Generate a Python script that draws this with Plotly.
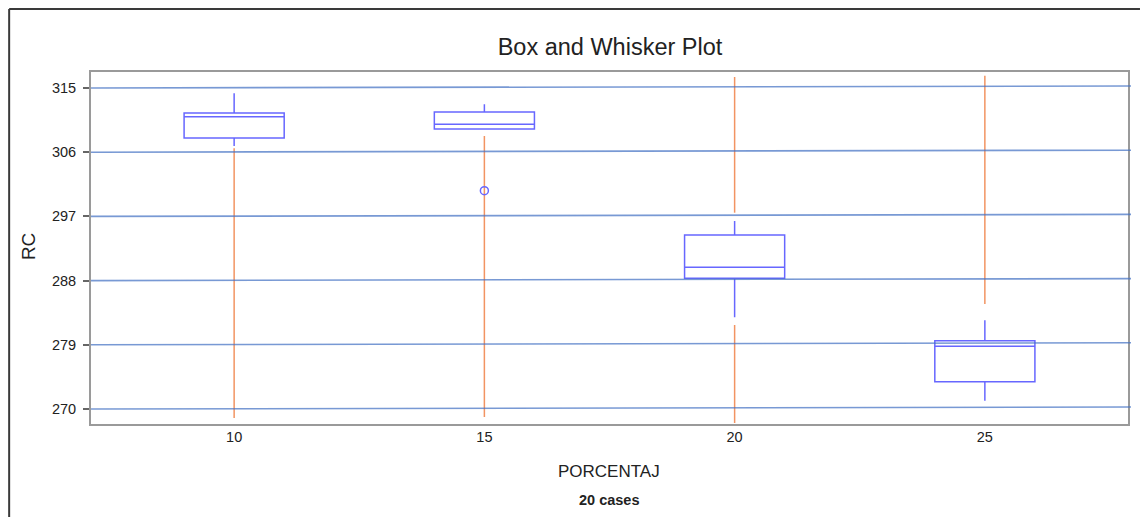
import plotly.graph_objects as go

# ---- data ----
categories = ["10", "15", "20", "25"]
q1 = [307.99, 309.25, 288.32, 273.83]
median = [310.98, 309.91, 289.86, 278.79]
q3 = [311.50, 311.64, 294.39, 279.57]
lower_fence = [306.87, 309.25, 282.85, 271.16]
upper_fence = [314.26, 312.71, 296.36, 282.43]

outlier_x = ["15"]
outlier_y = [300.6]

# orange vertical segments
orange_x = ["10", "15", "20", "20", "25"]
orange_hi = [306.55, 308.27, 316.54, 281.78, 316.72]
orange_lo = [268.74, 268.88, 297.52, 268.04, 284.72]

y_ticks = [270, 279, 288, 297, 306, 315]

# ---- layout geometry (pixels) ----
W, H = 1140, 517
L, R, T, B = 91, 1130, 72, 424


def px_x(p):
    return (p - L) / (R - L)


def px_y(p):
    return (B - p) / (B - T)


BOX_COLOR = "#6767FF"
ORANGE = "#F29462"
GRID = "rgba(68,114,196,0.72)"
FONT = "Liberation Sans, Arial, sans-serif"
TXT = "#222222"

fig = go.Figure()

# orange segments
ox, oy = [], []
for x, hi, lo in zip(orange_x, orange_hi, orange_lo):
    ox += [x, x, None]
    oy += [hi, lo, None]
fig.add_trace(go.Scatter(x=ox, y=oy, mode="lines",
                         line=dict(color=ORANGE, width=1.5),
                         hoverinfo="skip", showlegend=False))

fig.add_trace(go.Box(
    x=categories, q1=q1, median=median, q3=q3,
    lowerfence=lower_fence, upperfence=upper_fence,
    boxpoints=False, width=0.4, whiskerwidth=0,
    line=dict(color=BOX_COLOR, width=1.5),
    fillcolor="rgba(255,255,255,0)", showlegend=False))

fig.add_trace(go.Scatter(x=outlier_x, y=outlier_y, mode="markers",
                         marker=dict(symbol="circle-open", size=8,
                                     color=BOX_COLOR, line=dict(width=1.5)),
                         showlegend=False))

shapes = []
tilt = 0.28
for v in y_ticks:
    shapes.append(dict(type="line", xref="paper", yref="y",
                       x0=0, x1=px_x(1133), y0=v, y1=v + tilt,
                       line=dict(color=GRID, width=1.6), layer="above"))
# outer dark frame (top and left)
shapes.append(dict(type="line", xref="paper", yref="paper",
                   x0=px_x(9), x1=px_x(1142), y0=px_y(9), y1=px_y(9),
                   line=dict(color="#3a3a3a", width=2)))
shapes.append(dict(type="line", xref="paper", yref="paper",
                   x0=px_x(9), x1=px_x(9), y0=px_y(9), y1=px_y(520),
                   line=dict(color="#3a3a3a", width=2)))

annotations = [
    dict(text="RC", x=px_x(28), y=px_y(247), xref="paper", yref="paper",
         showarrow=False, textangle=-90, font=dict(size=19, color=TXT, family=FONT),
         xanchor="center", yanchor="middle"),
    dict(text="PORCENTAJ", x=px_x(610), y=px_y(471), xref="paper", yref="paper",
         showarrow=False, font=dict(size=17, color=TXT, family=FONT),
         xanchor="center", yanchor="middle"),
    dict(text="<b>20 cases</b>", x=px_x(610), y=px_y(500), xref="paper", yref="paper",
         showarrow=False, font=dict(size=14.5, color=TXT, family=FONT),
         xanchor="center", yanchor="middle"),
]

fig.update_layout(
    width=W, height=H,
    margin=dict(l=L, r=W - R, t=T, b=H - B, pad=0),
    paper_bgcolor="white", plot_bgcolor="white",
    title=dict(text="Box and Whisker Plot", x=px_x(611), xref="paper",
               y=1 - 47 / H, yref="container", xanchor="center", yanchor="middle",
               font=dict(size=23.5, color=TXT, family=FONT)),
    shapes=shapes, annotations=annotations,
    showlegend=False,
    xaxis=dict(type="category", categoryorder="array", categoryarray=categories,
               range=[-0.572, 3.572], showgrid=False, zeroline=False,
               showline=True, linecolor="#9A9A9A", linewidth=2, mirror=True,
               ticks="", ticklabelstandoff=-1,
               tickfont=dict(size=14.5, color=TXT, family=FONT)),
    yaxis=dict(range=[267.90, 317.24], tickvals=y_ticks,
               ticktext=[str(v) for v in y_ticks],
               showgrid=False, zeroline=False,
               showline=True, linecolor="#9A9A9A", linewidth=2, mirror=True,
               ticks="outside", ticklen=6, tickwidth=1.5, tickcolor="#666666",
               ticklabelstandoff=4,
               tickfont=dict(size=14.5, color=TXT, family=FONT)),
)

fig.write_html("out.html", config={"displayModeBar": False},
               post_script="document.body.style.margin='0';document.body.style.overflow='hidden';")
